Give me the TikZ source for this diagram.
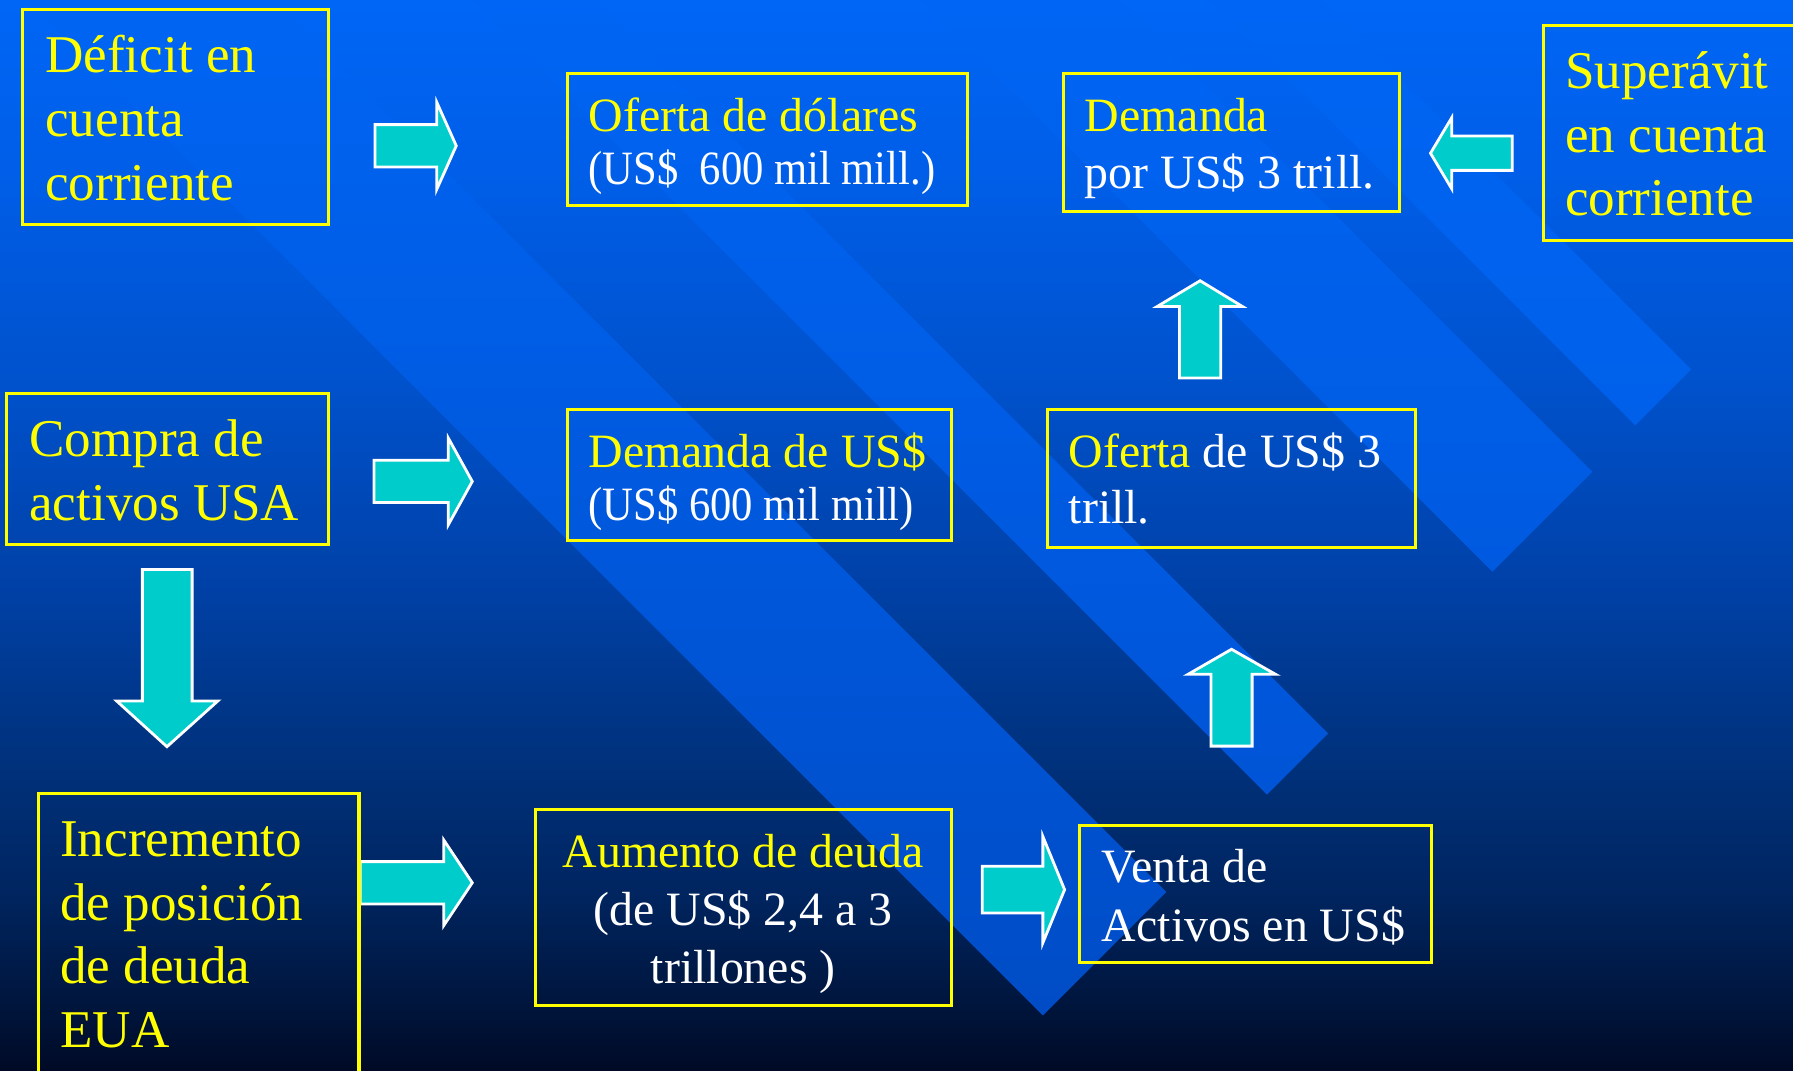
\documentclass[tikz,border=0pt]{standalone}
\usepackage{fontspec}
\setmainfont{Liberation Serif}
\usetikzlibrary{fit}
\definecolor{ylw}{RGB}{255,255,0}
\definecolor{cyanf}{RGB}{0,204,204}
\definecolor{bgA}{RGB}{0,102,246}
\definecolor{bgB}{RGB}{0,94,232}
\definecolor{bgC}{RGB}{0,82,205}
\definecolor{bgD}{RGB}{0,66,170}
\definecolor{bgE}{RGB}{0,51,128}
\definecolor{bgF}{RGB}{0,37,96}
\definecolor{bgG}{RGB}{0,21,60}
\definecolor{bgH}{RGB}{0,10,38}
\definecolor{bandtop}{RGB}{0,101,244}
\definecolor{bandA}{RGB}{0,76,198}
\definecolor{bandB}{RGB}{0,84,214}
\definecolor{bandC}{RGB}{0,90,224}
\definecolor{bandD}{RGB}{0,96,234}
\pgfdeclareverticalshading{bgshade}{100bp}{color(0bp)=(bgH); color(25bp)=(bgH); color(27.99bp)=(bgG); color(33.33bp)=(bgF); color(40.28bp)=(bgE); color(48.29bp)=(bgD); color(57.37bp)=(bgC); color(66.99bp)=(bgB); color(75bp)=(bgA); color(100bp)=(bgA)}
\begin{document}
\begin{tikzpicture}[x=0.01cm, y=-0.01cm,
  boxst/.style={draw=ylw, line width=0.8pt, inner sep=0pt},
  lbl/.style={inner sep=0pt, anchor=base west},
  lblc/.style={inner sep=0pt, anchor=base},
  big/.style={font=\fontsize{13.2}{15.9}\selectfont},
  med/.style={font=\fontsize{11.9}{14}\selectfont},
  ytext/.style={text=ylw},
  wtext/.style={text=white},
  arr/.style={fill=cyanf, draw=white, line width=0.7pt, line join=miter}]
\useasboundingbox (0,0) rectangle (1568,936);
\clip (0,0) rectangle (1568,936);
\shade[shading=bgshade] (0,0) rectangle (1568,936);
% diagonal bands
\shade[top color=bandtop, bottom color=bandA] (912,888) -- (1020,780) -- (240,0) -- (24,0) -- cycle;
\shade[top color=bandtop, bottom color=bandB] (1108,695) -- (1161.5,641.5) -- (520,0) -- (413,0) -- cycle;
\shade[top color=bandtop, bottom color=bandC] (1305,500) -- (1392.5,412.5) -- (980,0) -- (805,0) -- cycle;
\shade[top color=bandtop, bottom color=bandD] (1430,372) -- (1479,323) -- (1156,0) -- (1058,0) -- cycle;
% block arrows
\draw[arr] (328,109) -- (382,109) -- (382,89.5) -- (399,127.5) -- (382,165.5) -- (382,146) -- (328,146) -- cycle;
\draw[arr] (327,402.5) -- (392,402.5) -- (392,383) -- (413,421) -- (392,459) -- (392,439.5) -- (327,439.5) -- cycle;
\draw[arr] (315,753.5) -- (388,753.5) -- (388,734.5) -- (413,772) -- (388,809.5) -- (388,790.5) -- (315,790.5) -- cycle;
\draw[arr] (859,757.5) -- (912,757.5) -- (912,731.5) -- (931,778) -- (912,824.5) -- (912,798.5) -- (859,798.5) -- cycle;
\draw[arr] (1322.5,119) -- (1269.5,119) -- (1269.5,103) -- (1251,134) -- (1269.5,165) -- (1269.5,149) -- (1322.5,149) -- cycle;
\draw[arr] (124.5,498) -- (168,498) -- (168,613) -- (190.5,613) -- (146,653) -- (102,613) -- (124.5,613) -- cycle;
\draw[arr] (1031.5,330.5) -- (1067.5,330.5) -- (1067.5,268) -- (1086.5,268) -- (1049.5,245.5) -- (1012,268) -- (1031.5,268) -- cycle;
\draw[arr] (1059,652.5) -- (1095,652.5) -- (1095,589.7) -- (1115.5,589.7) -- (1077,567.8) -- (1039,589.7) -- (1059,589.7) -- cycle;
% boxes
\node[boxst, fit={(20,8) (287,196)}] (b1) {};
\node[boxst, fit={(496,64) (846,180)}] (b2) {};
\node[boxst, fit={(930,64) (1224,185)}] (b3) {};
\node[boxst, fit={(1350,22) (1600,210)}] (b4) {};
\node[boxst, fit={(6,344) (287,476)}] (b5) {};
\node[boxst, fit={(496,358) (832,473)}] (b6) {};
\node[boxst, fit={(916,358) (1238,479)}] (b7) {};
\node[boxst, fit={(34,694) (314,960)}] (b8) {};
\node[boxst, fit={(468,708) (832,879)}] (b9) {};
\node[boxst, fit={(944,722) (1252,842)}] (b10) {};
% texts
\node[lbl, big, ytext] (t1a) at (39,63) {Déficit en};
\node[lbl, big, ytext] (t1b) at (39,119) {cuenta};
\node[lbl, big, ytext] (t1c) at (39,175) {corriente};
\node[lbl, med, ytext] (t2a) at (514,115) {Oferta de dólares};
\node[lbl, med, wtext] (t2b) at (514,161) {\scalebox{0.89}[1]{(US\$\ \ 600 mil mill.)}};
\node[lbl, med, ytext] (t3a) at (948,115) {Demanda};
\node[lbl, med, wtext] (t3b) at (948,165) {por US\$ 3 trill.};
\node[lbl, big, ytext] (t4a) at (1368,77.5) {Superávit};
\node[lbl, big, ytext] (t4b) at (1368,133) {en cuenta};
\node[lbl, big, ytext] (t4c) at (1368,188.5) {corriente};
\node[lbl, big, ytext] (t5a) at (25,399) {Compra de};
\node[lbl, big, ytext] (t5b) at (25,455) {activos USA};
\node[lbl, med, ytext] (t6a) at (514,409) {Demanda de US\$};
\node[lbl, med, wtext] (t6b) at (514,455) {\scalebox{0.89}[1]{(US\$ 600 mil mill)}};
\node[lbl, med, wtext] (t7a) at (934,409) {\textcolor{ylw}{Oferta} de US\$ 3};
\node[lbl, med, wtext] (t7b) at (934,458) {trill.};
\node[lbl, big, ytext] (t8a) at (52,749) {Incremento};
\node[lbl, big, ytext] (t8b) at (52,805) {de posición};
\node[lbl, big, ytext] (t8c) at (52,860.5) {de deuda};
\node[lbl, big, ytext] (t8d) at (52,916) {EUA};
\node[lblc, med, ytext] (t9a) at (650,759) {Aumento de deuda};
\node[lblc, med, wtext] (t9b) at (650,809.5) {(de US\$ 2,4 a 3};
\node[lblc, med, wtext] (t9c) at (650,860) {trillones )};
\node[lbl, med, wtext] (t10a) at (963,771.5) {Venta de};
\node[lbl, med, wtext] (t10b) at (963,823) {Activos en US\$};
\end{tikzpicture}
\end{document}
